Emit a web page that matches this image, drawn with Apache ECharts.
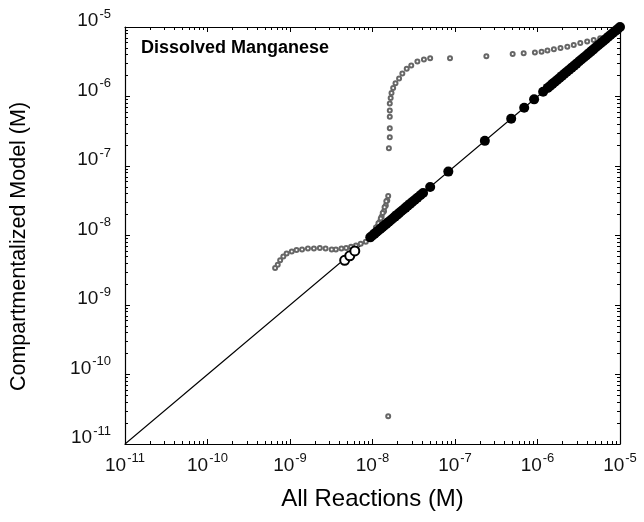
<!DOCTYPE html>
<html><head><meta charset="utf-8">
<script src="https://cdn.jsdelivr.net/npm/echarts@6/dist/echarts.min.js"></script>
<style>html,body{margin:0;padding:0;background:#fff}#c{width:644px;height:522px}</style>
</head><body><div id="c"></div><script>
// ---- data ----
const axisMin = 1e-11;
const axisMax = 1e-5;
const chartTitle = 'Dissolved Manganese';
const xTitle = 'All Reactions (M)';
const yTitle = 'Compartmentalized Model (M)';

// 1:1 reference line
const oneToOneX = [1e-11, 1e-5];
const oneToOneY = [1e-11, 1e-5];

// hollow black circles at the start of the matching band
const openAll  = [4.6e-9, 5.3e-9, 6.1e-9];
const openComp = [4.4e-9, 5.1e-9, 6.0e-9];

// filled black circles (model agrees with full reaction set)
const filledAll = [9.4e-9,1.0e-8,1.06e-8,1.12e-8,1.18e-8,1.25e-8,1.32e-8,1.4e-8,1.48e-8,1.57e-8,1.66e-8,1.76e-8,1.87e-8,1.98e-8,2.1e-8,2.23e-8,2.37e-8,2.52e-8,2.68e-8,2.85e-8,3.03e-8,3.25e-8,3.5e-8,3.8e-8,4.1e-8,
  5.0e-8,8.3e-8,2.3e-7,4.8e-7,6.9e-7,9.1e-7,1.17e-6,
  1.33e-6,1.42e-6,1.52e-6,1.62e-6,1.73e-6,1.85e-6,1.98e-6,2.12e-6,2.27e-6,2.43e-6,2.6e-6,2.78e-6,2.97e-6,3.18e-6,3.4e-6,3.64e-6,3.9e-6,4.17e-6,4.46e-6,4.77e-6,5.1e-6,5.46e-6,5.84e-6,6.25e-6,6.69e-6,7.16e-6,7.66e-6,8.2e-6,8.77e-6,9.38e-6,1.0e-5];
const filledComp = [9.4e-9,1.0e-8,1.06e-8,1.12e-8,1.18e-8,1.25e-8,1.32e-8,1.4e-8,1.48e-8,1.57e-8,1.66e-8,1.76e-8,1.87e-8,1.98e-8,2.1e-8,2.23e-8,2.37e-8,2.52e-8,2.68e-8,2.85e-8,3.03e-8,3.25e-8,3.5e-8,3.8e-8,4.1e-8,
  5.0e-8,8.3e-8,2.3e-7,4.8e-7,6.9e-7,9.1e-7,1.17e-6,
  1.33e-6,1.42e-6,1.52e-6,1.62e-6,1.73e-6,1.85e-6,1.98e-6,2.12e-6,2.27e-6,2.43e-6,2.6e-6,2.78e-6,2.97e-6,3.18e-6,3.4e-6,3.64e-6,3.9e-6,4.17e-6,4.46e-6,4.77e-6,5.1e-6,5.46e-6,5.84e-6,6.25e-6,6.69e-6,7.16e-6,7.66e-6,8.2e-6,8.77e-6,9.38e-6,1.0e-5];

// small grey open circles (deviating run)
const greyAll = [6.6e-10,7.1e-10,7.6e-10,8.3e-10,9.1e-10,1.05e-9,1.2e-9,1.4e-9,1.65e-9,1.95e-9,2.3e-9,2.7e-9,3.2e-9,3.6e-9,4.2e-9,4.8e-9,5.5e-9,6.3e-9,7.2e-9,8.3e-9,9.3e-9,
  1.0e-8,1.07e-8,1.15e-8,1.23e-8,1.29e-8,1.38e-8,1.45e-8,1.51e-8,1.55e-8,
  1.02e-8,1.1e-8,1.18e-8,1.26e-8,1.33e-8,1.4e-8,1.47e-8,
  1.58e-8,1.62e-8,1.62e-8,1.62e-8,1.62e-8,1.62e-8,1.66e-8,1.7e-8,1.78e-8,1.9e-8,2.1e-8,2.3e-8,2.6e-8,2.95e-8,3.5e-8,4.2e-8,5.0e-8,
  8.7e-8,2.4e-7,5.0e-7,6.8e-7,9.3e-7,1.12e-6,1.32e-6,1.58e-6,1.9e-6,2.3e-6,2.75e-6,3.3e-6,4.0e-6,4.8e-6,5.75e-6,6.9e-6,8.3e-6,9.5e-6,
  1.55e-8];
const greyComp = [3.4e-9,3.8e-9,4.4e-9,5.0e-9,5.5e-9,5.9e-9,6.2e-9,6.3e-9,6.5e-9,6.5e-9,6.6e-9,6.5e-9,6.3e-9,6.3e-9,6.5e-9,6.6e-9,6.9e-9,7.2e-9,7.6e-9,8.1e-9,8.9e-9,
  1.0e-8,1.15e-8,1.35e-8,1.58e-8,1.86e-8,2.24e-8,2.7e-8,3.2e-8,3.7e-8,
  1.12e-8,1.3e-8,1.5e-8,1.75e-8,2.1e-8,2.55e-8,3.1e-8,
  1.8e-7,2.6e-7,3.5e-7,5.1e-7,6.3e-7,7.9e-7,9.5e-7,1.12e-6,1.32e-6,1.55e-6,1.82e-6,2.14e-6,2.5e-6,2.8e-6,3.2e-6,3.4e-6,3.55e-6,
  3.55e-6,3.8e-6,4.1e-6,4.2e-6,4.3e-6,4.4e-6,4.6e-6,4.8e-6,5.0e-6,5.2e-6,5.5e-6,5.9e-6,6.2e-6,6.5e-6,6.9e-6,7.4e-6,7.9e-6,8.9e-6,
  2.5e-11];

// ---- build ----
const zip = (a, b) => a.map((v, i) => [v, b[i]]);
const FONT = '"Liberation Sans", Arial, Helvetica, sans-serif';
const fmt = v => '{b|10}{s|' + Math.round(Math.log10(v)) + '}';
const rich = {
  b: { fontSize: 19, color: '#111', fontFamily: FONT, lineHeight: 23, verticalAlign: 'bottom' },
  s: { fontSize: 13, color: '#111', fontFamily: FONT, lineHeight: 23, verticalAlign: 'top', padding: [0, 0, 0, 1] }
};
const axisCommon = {
  type: 'log', logBase: 10, min: axisMin, max: axisMax,
  axisLine: { show: true, lineStyle: { color: '#000', width: 1.2 } },
  axisTick: { show: true, inside: true, length: 5, lineStyle: { color: '#000' } },
  minorTick: { show: true, splitNumber: 9, length: 3, lineStyle: { color: '#000' } },
  splitLine: { show: false }, minorSplitLine: { show: false }
};

const chart = echarts.init(document.getElementById('c'), null, { renderer: 'canvas' });
chart.setOption({
  backgroundColor: '#fff',
  animation: false,
  title: {
    text: chartTitle, left: 136, top: 34,
    textStyle: { fontFamily: FONT, fontWeight: 'bold', fontSize: 18, color: '#000' }
  },
  grid: { left: 125, right: 24, top: 27, bottom: 78 },
  xAxis: [
    Object.assign({}, axisCommon, {
      position: 'bottom', name: xTitle, nameLocation: 'middle', nameGap: 43,
      nameTextStyle: { fontFamily: FONT, fontSize: 24, color: '#000' },
      axisLabel: { formatter: fmt, rich: rich, margin: 8 }
    }),
    Object.assign({}, axisCommon, { position: 'top', axisLabel: { show: false } })
  ],
  yAxis: [
    Object.assign({}, axisCommon, {
      position: 'left', name: yTitle, nameLocation: 'middle', nameGap: 95,
      nameTextStyle: { fontFamily: FONT, fontSize: 21.5, color: '#000', padding: [0, 22, 0, 0] },
      axisLabel: { formatter: fmt, rich: rich, margin: 14, padding: [0, 0, 16, 0] }
    }),
    Object.assign({}, axisCommon, { position: 'right', axisLabel: { show: false } })
  ],
  series: [
    {
      type: 'line', data: zip(oneToOneX, oneToOneY), showSymbol: false, symbol: 'none',
      lineStyle: { color: '#000', width: 1.1 }, z: 1, silent: true
    },
    {
      type: 'scatter', data: zip(greyAll, greyComp), symbol: 'emptyCircle', symbolSize: 4,
      itemStyle: { color: '#666', borderColor: '#555', borderWidth: 0.9, opacity: 1 }, z: 2
    },
    {
      type: 'scatter', data: zip(openAll, openComp), symbol: 'emptyCircle', symbolSize: 9,
      itemStyle: { color: '#000', borderColor: '#000', borderWidth: 1.2, opacity: 1 }, z: 3
    },
    {
      type: 'scatter', data: zip(filledAll, filledComp), symbol: 'circle', symbolSize: 10,
      itemStyle: { color: '#000', opacity: 1 }, z: 4
    }
  ]
});
</script></body></html>
